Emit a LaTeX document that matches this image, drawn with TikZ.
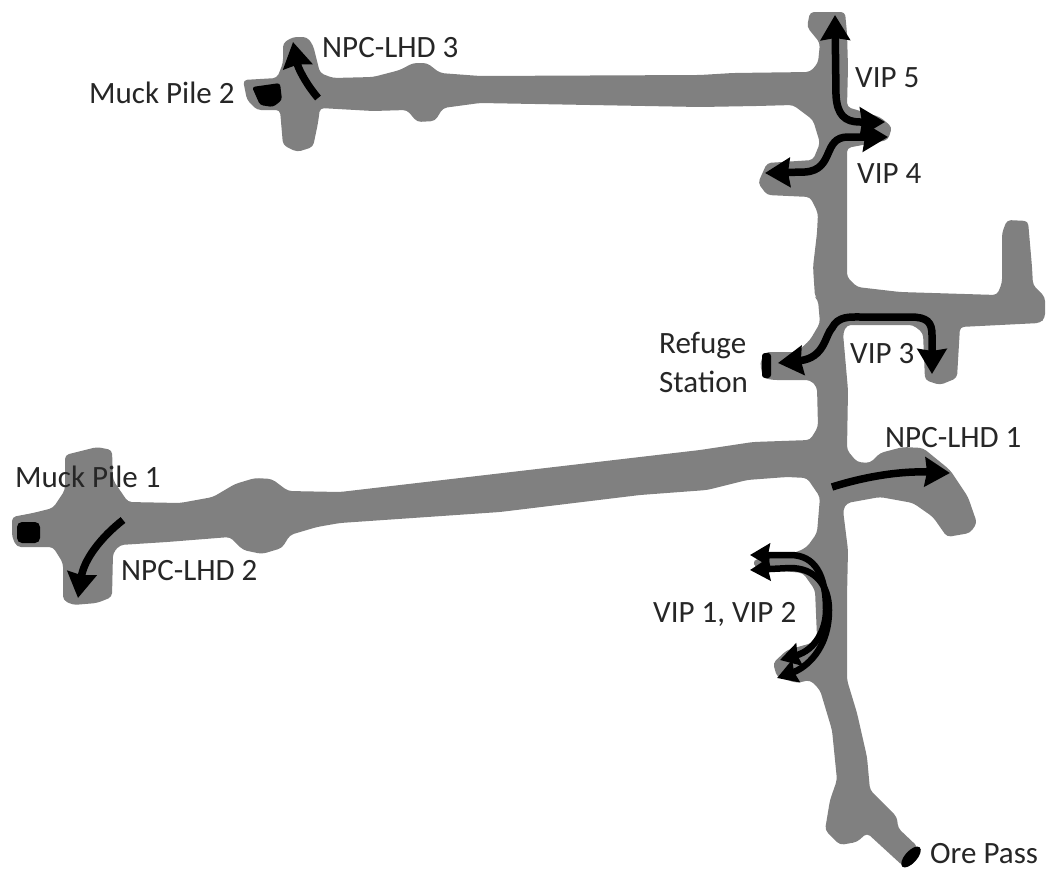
\documentclass[tikz,border=0pt]{standalone}
\usepackage{fontspec}
\setmainfont{Carlito}
\usepackage{tikz}
\usetikzlibrary{arrows.meta}
\definecolor{drift}{HTML}{808080}
\definecolor{labelink}{HTML}{262626}
\tikzset{
  bigtip/.tip={Stealth[length=25pt,width=29pt,inset=2pt]},
  smalltip/.tip={Stealth[length=20pt,width=23pt,inset=2pt]},
  route/.style={line width=7.5pt},
  thinroute/.style={line width=6.5pt},
  place/.style={anchor=base west,inner sep=0pt,text=labelink,font=\fontsize{31}{39}\selectfont},
}
\begin{document}
\begin{tikzpicture}[x=1pt,y=-1pt,>=Stealth]
            \useasboundingbox (0,0) rectangle (1055,878);
            % mine drifts
            \fill [drift,rounded corners=4pt] (283,43) -- (293,37) -- (307,37) -- (313,45) -- (316,57) -- (320,73) -- (333,78) -- (373,77) -- (400,70) -- (413,63) -- (427,63) -- (440,73) -- (480,76)
              -- (700,75) -- (733,73) -- (810,72) -- (818,63) -- (820,43) -- (807,27) -- (810,12) -- (845,12) -- (847,33) -- (848,67) -- (847,107) -- (880,117) -- (892,127) -- (888,140) -- (847,148)
              -- (847,200) -- (847,240) -- (847,277) -- (857,287) -- (900,292) -- (997,295) -- (1002,283) -- (1002,233) -- (1007,220) -- (1028,221) -- (1032,267) -- (1033,285) -- (1045,297) -- (1045,318)
              -- (1040,323) -- (1000,325) -- (960,327) -- (957,378) -- (940,385) -- (925,380) -- (923,333) -- (913,325) -- (847,325) -- (843,333) -- (848,390) -- (847,450) -- (857,462) -- (870,463) -- (880,453) -- (903,447) -- (923,448)
              -- (950,470) -- (968,497) -- (977,523) -- (970,533) -- (947,537) -- (933,517) -- (913,503) -- (880,497) -- (847,503) -- (843,510) -- (848,550) -- (847,597) -- (847,680)
              -- (857,713) -- (867,757) -- (870,790) -- (897,817) -- (898,828) -- (918,847) -- (903,866) -- (867,833) -- (857,842) -- (840,845) -- (825,830) -- (830,800) -- (837,780) -- (832,730) -- (820,690) -- (810,680)
              -- (797,683) -- (777,677) -- (773,663) -- (787,650) -- (812,643) -- (817,637) -- (815,590) -- (803,573) -- (773,570) -- (755,568) -- (753,560) -- (770,557) -- (797,552) -- (807,547) -- (817,533) -- (820,497)
              -- (807,478) -- (787,477) -- (747,480) -- (707,490) -- (640,495) -- (500,512) -- (340,523) -- (317,527) -- (290,535) -- (282,548) -- (262,554) -- (243,550) -- (230,537) -- (167,542) -- (120,545) -- (113,553) -- (112,597) -- (97,603) -- (73,605) -- (63,600) -- (63,563) -- (53,547) -- (17,547) -- (12,537) -- (12,517) -- (33,513) -- (53,508) -- (65,490) -- (65,455) -- (97,447) -- (112,450) -- (113,480) -- (128,502) -- (180,503) -- (213,497) -- (235,484) -- (255,478) -- (272,479) -- (288,491) -- (340,492)
              -- (640,457) -- (700,450) -- (753,442) -- (810,440) -- (818,427) -- (817,387) -- (810,380) -- (773,380) -- (763,378) -- (760,363) -- (765,352) -- (797,352) -- (810,340) -- (820,323) -- (818,300) -- (815,297) -- (813,267) -- (817,233) -- (818,213) -- (810,197) -- (767,195) -- (758,183) -- (767,163) -- (813,160) -- (820,143) -- (813,120) -- (793,105) -- (757,106)
              -- (700,107) -- (480,103) -- (443,108) -- (435,121) -- (417,122) -- (407,110) -- (373,111) -- (320,108) -- (318,123) -- (313,147) -- (297,152) -- (283,145) -- (280,110) -- (257,110) -- (247,100) -- (243,80) -- (277,78) -- (283,63) -- cycle;
            % muck piles, refuge station, ore pass
            \fill [rounded corners=5pt] (17,522) rectangle (40,543);
            \fill [rounded corners=3pt] (252,87) -- (280,83) -- (282,100) -- (273,107) -- (260,105) -- cycle;
            \fill [rounded corners=3pt] (762,353) rectangle (771,378);
            \fill [rotate around={48:(911,857)}] (911,857) ellipse [x radius=13,y radius=6];
            % routes
            \draw [route,-bigtip] (318,98) .. controls (306,84) and (298,68) .. (293,42);
            \draw [route,-bigtip] (123,520) .. controls (100,538) and (84,560) .. (78,598);
            \draw [route,-bigtip] (832,487) .. controls (870,475) and (905,471) .. (950,473);
            \draw [route,bigtip-bigtip] (835,15) -- (836,95) .. controls (837,115) and (845,122) .. (860,122) -- (885,122);
            \draw [route,bigtip-bigtip] (765,173) -- (805,172) .. controls (835,170) and (822,137) .. (848,137) -- (888,137);
            \draw [route,bigtip-bigtip] (778,363) .. controls (825,358) and (825,335) .. (832,328) .. controls (838,316) and (850,317) .. (860,317) -- (910,317) .. controls (927,317) and (932,322) .. (932,335) -- (932,374);
            \draw [thinroute,smalltip-smalltip] (750,555) -- (790,555) .. controls (815,555) and (826,575) .. (826,610) .. controls (826,630) and (815,650) .. (780,660);
            \draw [thinroute,smalltip-smalltip] (750,570) -- (790,568) .. controls (815,568) and (829,585) .. (829,610) .. controls (829,650) and (805,668) .. (777,678);
            % labels
            \node [place] (muck2) at (89,103) {Muck Pile 2};
            \node [place] (lhd3) at (322,57) {NPC-LHD 3};
            \node [place] (vip5) at (855,87) {VIP 5};
            \node [place] (vip4) at (857,183) {VIP 4};
            \node [place,anchor=west,align=left] (refuge) at (659,362) {Refuge\\Station};
            \node [place] (vip3) at (850,363) {VIP 3};
            \node [place] (lhd1) at (885,447) {NPC-LHD 1};
            \node [place] (muck1) at (15,487) {Muck Pile 1};
            \node [place] (lhd2) at (121,580) {NPC-LHD 2};
            \node [place] (vip12) at (653,622) {VIP 1, VIP 2};
            \node [place] (orepass) at (930,863) {Ore Pass};
\end{tikzpicture}
\end{document}
